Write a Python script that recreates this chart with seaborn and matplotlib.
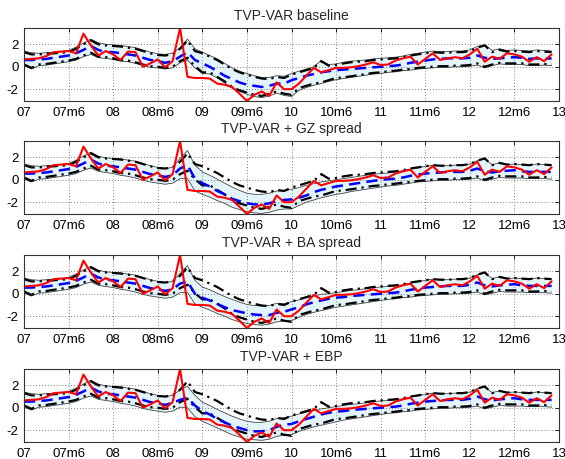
import numpy as np
import matplotlib
matplotlib.use("Agg")
import matplotlib.pyplot as plt
import seaborn as sns

# Monthly observations, 2007m1 .. 2012m12
tick_labels = ["07", "07m6", "08", "08m6", "09", "09m6", "10",
               "10m6", "11", "11m6", "12", "12m6", "13"]
titles = ["TVP-VAR baseline", "TVP-VAR + GZ spread",
          "TVP-VAR + BA spread", "TVP-VAR + EBP"]

# Realised series (red)
actual = [0.65, 0.7, 0.75, 0.95, 1.3, 1.35, 1.4, 1.2, 2.95, 1.9,
          1.0, 1.4, 1.1, 0.6, 1.35, 1.3, 0.0, 0.3, 0.65, -0.05,
          0.5, 3.45, -0.9, -1.0, -1.0, -1.05, -1.5, -1.6, -1.8, -2.4,
          -3.05, -2.5, -2.2, -2.6, -1.4, -2.0, -2.0, -1.5, -0.8, -0.1,
          -0.5, -0.3, -0.1, -0.1, -0.05, 0.05, 0.2, 0.4, 0.15, 0.2,
          0.55, 0.75, 0.9, 0.2, 0.7, 1.2, 0.6, 0.75, 0.85, 0.75,
          1.1, 1.6, 0.45, 0.9, 0.7, 1.2, 1.1, 0.9, 0.45, 0.85,
          0.5, 1.1]

# Baseline 68% bands (black dash-dot), shown in every panel
base_upper = [1.3, 1.1, 1.1, 1.15, 1.2, 1.25, 1.3, 1.6, 2.0, 2.35,
              2.0, 1.9, 1.85, 1.8, 1.7, 1.6, 1.4, 1.2, 1.05, 1.0,
              1.1, 1.6, 2.35, 1.4, 1.2, 0.9, 0.6, 0.2, -0.2, -0.5,
              -0.7, -0.9, -1.05, -1.1, -0.9, -1.0, -0.7, -0.5, -0.3, -0.1,
              0.5, 0.1, 0.15, 0.3, 0.4, 0.45, 0.5, 0.6, 0.65, 0.7,
              0.75, 0.85, 1.0, 1.1, 1.2, 1.3, 1.25, 1.25, 1.3, 1.3,
              1.4, 1.7, 1.9, 1.3, 1.5, 1.35, 1.4, 1.35, 1.3, 1.4,
              1.35, 1.3]
base_lower = [0.2, -0.1, 0.2, 0.25, 0.35, 0.45, 0.55, 0.7, 1.0, 1.25,
              0.9, 0.85, 0.75, 0.6, 0.55, 0.4, 0.2, 0.05, 0.0, -0.1,
              0.0, 0.5, 0.8, 0.05, -0.5, -0.5, -0.9, -1.3, -1.8, -2.1,
              -2.3, -2.5, -2.6, -2.4, -2.2, -2.4, -2.5, -1.9, -1.7, -1.5,
              -1.4, -1.2, -1.0, -0.95, -0.85, -0.75, -0.65, -0.55, -0.5, -0.4,
              -0.35, -0.25, -0.2, -0.1, -0.05, 0.0, 0.05, 0.05, 0.1, 0.1,
              0.15, 0.3, 0.0, 0.2, 0.35, 0.3, 0.3, 0.3, 0.2, 0.2,
              0.25, 0.2]

# Model medians (blue dashed)
median_base = [0.6, 0.6, 0.65, 0.7, 0.8, 0.9, 1.0, 1.2, 1.5, 1.85,
               1.5, 1.3, 1.3, 1.2, 1.1, 1.0, 0.8, 0.6, 0.5, 0.35,
               0.5, 0.9, 1.3, 0.6, 0.3, 0.0, -0.4, -0.8, -1.1, -1.4,
               -1.6, -1.7, -1.8, -1.7, -1.5, -1.5, -1.2, -1.0, -0.8, -0.65,
               -0.5, -0.4, -0.3, -0.25, -0.2, -0.15, -0.1, -0.05, 0.0, 0.05,
               0.1, 0.2, 0.35, 0.45, 0.55, 0.65, 0.7, 0.75, 0.75, 0.75,
               0.8, 1.0, 0.8, 0.7, 0.75, 0.8, 0.85, 0.8, 0.7, 0.75,
               0.7, 0.75]
median_gz = [0.55, 0.55, 0.6, 0.65, 0.75, 0.85, 0.95, 1.15, 1.45, 1.8,
             1.45, 1.25, 1.2, 1.1, 1.0, 0.9, 0.7, 0.5, 0.4, 0.25,
             0.4, 1.0, 1.3, 0.1, -0.3, -0.6, -1.0, -1.3, -1.7, -1.9,
             -2.1, -2.2, -2.2, -2.1, -1.9, -1.8, -1.75, -1.6, -1.4, -1.1,
             -0.9, -0.75, -0.6, -0.5, -0.4, -0.3, -0.2, -0.1, 0.0, 0.05,
             0.1, 0.2, 0.35, 0.45, 0.55, 0.6, 0.65, 0.7, 0.7, 0.7,
             0.8, 1.0, 0.75, 0.65, 0.75, 0.8, 0.85, 0.75, 0.7, 0.7,
             0.7, 0.7]
median_ba = [0.55, 0.55, 0.6, 0.65, 0.75, 0.85, 0.95, 1.15, 1.45, 1.8,
             1.45, 1.25, 1.2, 1.1, 1.0, 0.9, 0.7, 0.5, 0.4, 0.25,
             0.4, 0.9, 1.1, 0.0, -0.35, -0.6, -0.9, -1.2, -1.45, -1.6,
             -1.75, -1.85, -1.9, -1.9, -1.7, -1.6, -1.4, -1.2, -0.95, -0.75,
             -0.6, -0.45, -0.35, -0.3, -0.2, -0.15, -0.1, -0.05, 0.0, 0.05,
             0.1, 0.2, 0.35, 0.45, 0.55, 0.6, 0.65, 0.7, 0.7, 0.7,
             0.8, 1.0, 0.75, 0.65, 0.75, 0.8, 0.85, 0.75, 0.7, 0.7,
             0.7, 0.7]
median_ebp = [0.55, 0.55, 0.6, 0.65, 0.75, 0.85, 0.95, 1.15, 1.45, 1.8,
              1.45, 1.25, 1.2, 1.1, 1.0, 0.9, 0.7, 0.5, 0.4, 0.25,
              0.45, 0.7, 0.9, 0.2, -0.3, -0.6, -1.0, -1.3, -1.6, -1.8,
              -2.0, -2.1, -2.1, -2.0, -1.7, -1.5, -1.45, -1.2, -1.0, -0.8,
              -0.6, -0.45, -0.35, -0.3, -0.2, -0.15, -0.1, -0.05, 0.0, 0.05,
              0.1, 0.2, 0.35, 0.45, 0.55, 0.6, 0.65, 0.7, 0.7, 0.7,
              0.8, 1.0, 0.75, 0.65, 0.75, 0.8, 0.85, 0.75, 0.7, 0.7,
              0.7, 0.7]

# Model 90% bands (shaded)
band_hi_base = [1.4, 1.25, 1.2, 1.25, 1.3, 1.35, 1.45, 1.75, 2.1, 2.45,
                2.15, 2.0, 1.95, 1.9, 1.8, 1.7, 1.5, 1.3, 1.15, 1.1,
                1.2, 1.7, 2.45, 1.6, 1.3, 1.0, 0.7, 0.3, -0.1, -0.4,
                -0.6, -0.8, -0.95, -0.95, -0.8, -0.85, -0.6, -0.4, -0.2, 0.0,
                0.55, 0.2, 0.25, 0.4, 0.5, 0.55, 0.6, 0.7, 0.75, 0.8,
                0.85, 0.95, 1.1, 1.2, 1.3, 1.4, 1.35, 1.35, 1.4, 1.4,
                1.5, 1.8, 1.95, 1.45, 1.6, 1.45, 1.5, 1.45, 1.4, 1.5,
                1.45, 1.4]
band_lo_base = [0.1, -0.2, 0.1, 0.15, 0.25, 0.35, 0.45, 0.6, 0.9, 1.1,
                0.8, 0.75, 0.65, 0.5, 0.45, 0.3, 0.1, -0.05, -0.1, -0.2,
                -0.1, 0.35, 0.6, -0.1, -0.6, -0.65, -1.0, -1.45, -1.9, -2.2,
                -2.45, -2.65, -2.75, -2.6, -2.35, -2.55, -2.65, -2.1, -1.85, -1.65,
                -1.5, -1.3, -1.15, -1.05, -0.95, -0.85, -0.75, -0.65, -0.6, -0.5,
                -0.45, -0.35, -0.3, -0.2, -0.15, -0.1, -0.05, -0.05, 0.0, 0.0,
                0.05, 0.15, -0.1, 0.1, 0.25, 0.2, 0.2, 0.2, 0.1, 0.1,
                0.15, 0.1]
band_hi_gz = [1.4, 1.25, 1.2, 1.25, 1.3, 1.35, 1.45, 1.75, 2.1, 2.45,
              2.1, 1.95, 1.9, 1.85, 1.75, 1.65, 1.45, 1.25, 1.1, 1.0,
              1.1, 1.9, 2.6, 1.3, 0.7, 0.4, 0.05, -0.3, -0.65, -0.95,
              -1.2, -1.3, -1.3, -1.2, -1.0, -1.0, -0.85, -0.7, -0.5, -0.35,
              -0.2, -0.1, 0.0, 0.1, 0.2, 0.3, 0.4, 0.5, 0.55, 0.6,
              0.7, 0.8, 0.95, 1.05, 1.2, 1.3, 1.25, 1.25, 1.3, 1.3,
              1.4, 1.7, 1.85, 1.35, 1.5, 1.35, 1.4, 1.35, 1.3, 1.4,
              1.35, 1.3]
band_lo_gz = [0.05, -0.2, 0.05, 0.1, 0.2, 0.3, 0.4, 0.55, 0.85, 1.05,
              0.75, 0.65, 0.55, 0.4, 0.3, 0.15, -0.05, -0.2, -0.3, -0.4,
              -0.3, 0.1, 0.1, -1.0, -1.3, -1.55, -1.85, -2.1, -2.45, -2.65,
              -2.85, -2.95, -3.0, -2.9, -2.7, -2.6, -2.6, -2.3, -2.0, -1.8,
              -1.6, -1.45, -1.3, -1.2, -1.05, -0.95, -0.85, -0.75, -0.65, -0.55,
              -0.5, -0.4, -0.3, -0.2, -0.15, -0.1, -0.05, -0.05, 0.0, 0.0,
              0.05, 0.15, -0.1, 0.05, 0.2, 0.15, 0.15, 0.15, 0.1, 0.1,
              0.1, 0.05]
band_hi_ba = [1.4, 1.25, 1.2, 1.25, 1.3, 1.35, 1.45, 1.75, 2.1, 2.45,
              2.1, 1.95, 1.9, 1.85, 1.75, 1.65, 1.45, 1.25, 1.1, 1.0,
              1.1, 1.8, 2.5, 1.2, 0.6, 0.35, 0.05, -0.25, -0.5, -0.75,
              -0.95, -1.05, -1.1, -1.05, -0.85, -0.9, -0.7, -0.55, -0.35, -0.2,
              -0.05, 0.0, 0.1, 0.2, 0.3, 0.35, 0.45, 0.55, 0.6, 0.65,
              0.7, 0.8, 0.95, 1.05, 1.2, 1.3, 1.25, 1.25, 1.3, 1.3,
              1.4, 1.7, 1.85, 1.35, 1.5, 1.35, 1.4, 1.35, 1.3, 1.4,
              1.35, 1.3]
band_lo_ba = [0.05, -0.2, 0.05, 0.1, 0.2, 0.3, 0.4, 0.55, 0.85, 1.05,
              0.75, 0.65, 0.55, 0.4, 0.3, 0.15, -0.05, -0.2, -0.3, -0.4,
              -0.3, 0.1, 0.1, -0.9, -1.2, -1.45, -1.75, -2.0, -2.3, -2.5,
              -2.65, -2.75, -2.8, -2.7, -2.5, -2.45, -2.4, -2.1, -1.85, -1.65,
              -1.5, -1.35, -1.2, -1.1, -1.0, -0.9, -0.8, -0.7, -0.6, -0.5,
              -0.45, -0.35, -0.3, -0.2, -0.15, -0.1, -0.05, -0.05, 0.0, 0.0,
              0.05, 0.15, -0.1, 0.05, 0.2, 0.15, 0.15, 0.15, 0.1, 0.1,
              0.1, 0.05]
band_hi_ebp = [1.4, 1.25, 1.2, 1.25, 1.3, 1.35, 1.45, 1.75, 2.1, 2.45,
               2.1, 1.95, 1.9, 1.85, 1.75, 1.65, 1.45, 1.25, 1.1, 1.0,
               1.1, 1.6, 1.9, 1.1, 0.5, 0.2, -0.15, -0.45, -0.75, -1.0,
               -1.2, -1.3, -1.3, -1.2, -0.95, -0.9, -0.75, -0.55, -0.4, -0.25,
               -0.1, 0.0, 0.1, 0.2, 0.3, 0.35, 0.45, 0.55, 0.6, 0.65,
               0.7, 0.8, 0.95, 1.05, 1.2, 1.3, 1.25, 1.25, 1.3, 1.3,
               1.4, 1.7, 1.85, 1.35, 1.5, 1.35, 1.4, 1.35, 1.3, 1.4,
               1.35, 1.3]
band_lo_ebp = [0.05, -0.2, 0.05, 0.1, 0.2, 0.3, 0.4, 0.55, 0.85, 1.05,
               0.75, 0.65, 0.55, 0.4, 0.3, 0.15, -0.05, -0.2, -0.3, -0.4,
               -0.3, 0.05, 0.0, -0.8, -1.2, -1.5, -1.8, -2.1, -2.4, -2.6,
               -2.8, -2.85, -2.9, -2.8, -2.55, -2.45, -2.4, -2.1, -1.9, -1.7,
               -1.55, -1.4, -1.25, -1.1, -1.0, -0.9, -0.8, -0.7, -0.6, -0.5,
               -0.45, -0.35, -0.3, -0.2, -0.15, -0.1, -0.05, -0.05, 0.0, 0.0,
               0.05, 0.15, -0.1, 0.05, 0.2, 0.15, 0.15, 0.15, 0.1, 0.1,
               0.1, 0.05]

medians = [median_base, median_gz, median_ba, median_ebp]
bands_hi = [band_hi_base, band_hi_gz, band_hi_ba, band_hi_ebp]
bands_lo = [band_lo_base, band_lo_gz, band_lo_ba, band_lo_ebp]

months = np.arange(len(actual))

sns.set_style("white")
plt.rcParams["font.family"] = ["Liberation Sans", "DejaVu Sans"]

W, H = 565, 459
fig = plt.figure(figsize=(W / 100, H / 100), dpi=100)

left_px, right_px = 24, 559
tops_px = [28, 141, 255, 369]
height_px = 73

for k in range(4):
    ax = fig.add_axes([left_px / W, 1 - (tops_px[k] + height_px) / H,
                       (right_px - left_px) / W, height_px / H])
    hi = np.array(bands_hi[k])
    lo = np.array(bands_lo[k])

    ax.fill_between(months, lo, hi, color="#e3f5fb", lw=0, zorder=1)
    sns.lineplot(x=months, y=hi, ax=ax, color="#444444", lw=0.6, zorder=2)
    sns.lineplot(x=months, y=lo, ax=ax, color="#444444", lw=0.6, zorder=2)
    sns.lineplot(x=months, y=base_upper, ax=ax, color="black", lw=1.6,
                 linestyle=(0, (5, 2.2, 1, 2.2)), zorder=3)
    sns.lineplot(x=months, y=base_lower, ax=ax, color="black", lw=1.6,
                 linestyle=(0, (5, 2.2, 1, 2.2)), zorder=3)
    sns.lineplot(x=months, y=medians[k], ax=ax, color="#0000ff", lw=1.8,
                 linestyle=(0, (4.5, 2.5)), zorder=4)
    sns.lineplot(x=months, y=actual, ax=ax, color="#ff0000", lw=1.5,
                 zorder=5)

    all_vals = np.concatenate([hi, lo, base_upper, base_lower,
                               medians[k], actual])
    ax.set_ylim(all_vals.min(), all_vals.max())
    ax.set_xlim(0, 72)
    ax.set_xticks(np.arange(0, 73, 6))
    ax.set_xticklabels(tick_labels)
    ax.set_yticks([-2, 0, 2])
    ax.set_yticklabels(["-2", "0", "2"])
    ax.grid(True, color="#555555", linestyle=(0, (1, 2.5)), lw=0.6)
    ax.set_axisbelow(False)
    for s in ax.spines.values():
        s.set_visible(True)
        s.set_color("#333333")
        s.set_linewidth(0.8)
        s.set_zorder(6)
    ax.tick_params(direction="in", length=3, width=0.6, labelsize=9.5,
                   pad=4, colors="black", top=True, right=True)
    ax.set_title(titles[k], fontsize=10, pad=6)
    ax.set_xlabel("")
    ax.set_ylabel("")

fig.savefig("out.png", dpi=100)
